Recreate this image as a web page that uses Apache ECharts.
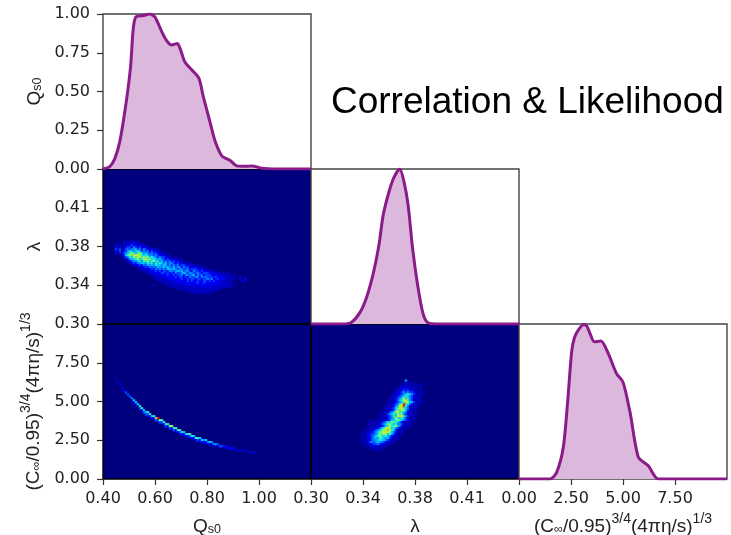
<!DOCTYPE html>
<html>
<head>
<meta charset="utf-8">
<script src="https://cdn.jsdelivr.net/npm/echarts@6/dist/echarts.min.js"></script>
<style>
    html, body { margin: 0; padding: 0; background: #fff; }
    #main { width: 731px; height: 535px; }
    /* the source picture is a soft screenshot */
    #main canvas { filter: blur(0.45px); }
</style>
</head>
<body>
<div id="main"></div>
<script>
var titleText = 'Correlation & Likelihood';

// axis ranges: min, max, tick step
var qRange = [0.4, 1.2, 0.2];
var lambdaRange = [0.3, 0.45, 0.0375];
var hydroRange = [0, 10, 2.5];
var densityRange = [0, 1, 0.25];

// marginal likelihoods
var qValues = [0.4, 0.426, 0.445, 0.465, 0.49, 0.506, 0.516, 0.526, 0.555, 0.58, 0.6, 0.625, 0.644, 0.664, 0.686, 0.698, 0.715, 0.741, 0.769, 0.786, 0.812, 0.831, 0.857, 0.889, 0.915, 0.953, 0.973, 1.01, 1.056, 1.2];
var qDensity = [0, 0.015, 0.065, 0.18, 0.44, 0.66, 0.9, 0.98, 0.99, 1, 0.98, 0.89, 0.83, 0.8, 0.81, 0.77, 0.69, 0.64, 0.585, 0.465, 0.3, 0.18, 0.085, 0.055, 0.02, 0.017, 0.02, 0.005, 0, 0];

var lambdaValues = [0.3, 0.323, 0.329, 0.335, 0.34, 0.345, 0.349, 0.352, 0.356, 0.3595, 0.364, 0.367, 0.37, 0.3733, 0.377, 0.3807, 0.384, 0.39, 0.45];
var lambdaDensity = [0, 0, 0.01, 0.07, 0.17, 0.33, 0.51, 0.7, 0.845, 0.94, 1, 0.92, 0.77, 0.485, 0.245, 0.07, 0.01, 0, 0];

var hydroValues = [0, 1.49, 1.81, 2.13, 2.34, 2.53, 2.66, 2.85, 3.09, 3.25, 3.41, 3.62, 3.94, 4.29, 4.69, 5, 5.34, 5.74, 6.22, 6.7, 10];
var hydroDensity = [0, 0, 0.043, 0.205, 0.5, 0.82, 0.91, 0.96, 0.995, 0.99, 0.94, 0.885, 0.89, 0.81, 0.68, 0.625, 0.43, 0.14, 0.085, 0, 0];

// joint histograms, 0-9 colour level per bin, '.' is an empty bin
var qLambdaStart = [4, 36];
var qLambdaRows = [
    '......1.1.11.1',
    '...1..11121211.1',
    '..1.1.112132212211',
    '..2.2.1233243232121.1',
    '..3.3.234344534243212111',
    '..2.3.2346545653434232211.1',
    '..1.2.345676567645434332211',
    '.....1256768787656544343221111',
    '......1346576876767565434332111.1',
    '.......1245567567867565454323221111',
    '........1234456466756756453434232211.1',
    '.........12324455465646565453443232211.11',
    '...........1223243545465545534343423322111.1',
    '.............1122324343544545435344243322221111',
    '..............1112223243434355454344334233322211.1',
    '................111222323233244345453443243323222111.1',
    '..................112122233232324334543443343233322211111.1',
    '....................1112122232232334244345243423332222111111.1',
    '.....................11112122222323323243344243433323222211111..1.1',
    '......................1111112222222322323323323343422322211111..1..2',
    '........................111111212222213232232233232322121111.....11',
    '..........................1.111121212222122322322212222111111',
    '.....................1.....1..111111122212122222122212211111.1',
    '.............................1.1.1111111121112121211111111.1',
    '.................................1.11111111111211111111',
    '......................................1.1111111111.1',
    '........................................1.1.11.1.1'
];

var lambdaHydroStart = [22, 28];
var lambdaHydroRows = [
    '.........................4',
    '........................1.1.1',
    '.......................1.2.1.1.1.1',
    '......................1.1211.11.1',
    '.....................11212211.1.1',
    '....................11123232211.11',
    '...................1112343433211.1',
    '..................1112234565431.11',
    '..................1112345654321.1',
    '.................1.12345756431111',
    '.................1112356786431.11',
    '................1.112345687553111.1',
    '................1112346795642111',
    '...............1.112457896421.11',
    '...............1112356876541111',
    '..............1.1123576875311.1',
    '............1.111345786654211.1',
    '............1.1134565767431111',
    '.............1112346587864311',
    '...........1.11123457656531.11',
    '........1.1.1.11235567654321.1',
    '.......1.1.112346576654211.1',
    '......1.11.1134567656443.111',
    '.......11.112235676675421.11',
    '......1.1122356787564311.1',
    '.....1.11234567868653111',
    '....1.112345678787542.11',
    '...1.11233457677565311.1',
    '...1.12234567656542.11',
    '...1.112345466545321.1',
    '...1.11234456554321.1',
    '...1.1234345443211.1',
    '....1.122334322.11',
    '.....1.1121211.1',
    '.......1.111.1',
    '..........1.1'
];

// the Q / hydro curve: first column, top bin of each column, colour levels going down from it
var qHydroStartCol = 6;
var qHydroTopRows = [27, 29, 30, 32, 33, 34, 35, 36, 37, 38, 39, 40, 41, 42, 43, 44, 44, 45, 46, 46, 47, 47, 48, 48, 49, 50, 50, 51, 51, 52, 52, 53, 53, 54, 54, 55, 55, 55, 56, 56, 57, 57, 57, 58, 58, 58, 59, 59, 59, 60, 60, 60, 61, 61, 61, 61, 62, 62, 62, 62, 63, 63, 63, 63, 63, 63, 64, 64, 64, 64];
var qHydroLevels = ['1', '1', '1', '1', '2', '3', '3', '3', '41', '52', '52', '51', '63', '62', '53', '53', '63', '62', '52', '62', '73', '93', '73', '63', '62', '63', '62', '73', '72', '63', '62', '62', '63', '62', '52', '52', '62', '63', '62', '52', '62', '63', '52', '52', '42', '52', '41', '52', '41', '41', '4', '31', '3', '3', '21', '2', '2', '2', '2', '2', '1', '1', '1', '1', '1', '1', '1', '1', '1', '1'];

var jetColors = ['#00007f', '#0000c0', '#0000f8', '#0040ff', '#0088ff', '#00c8ff', '#30f0c0', '#90ff60', '#f0e000', '#f01800'];

var HIST_COLS = 104;
var HIST_ROWS = 78;

function rowsToCells(rows, start) {
    var cells = [];
    rows.forEach(function (row, r) {
        row.split('').forEach(function (ch, c) {
            if (ch !== '.') {
                cells.push([start[0] + c, start[1] + r, +ch]);
            }
        });
    });
    return cells;
}

function curveToCells() {
    var cells = [];
    qHydroTopRows.forEach(function (top, i) {
        qHydroLevels[i].split('').forEach(function (ch, k) {
            cells.push([qHydroStartCol + i, top + k, +ch]);
        });
    });
    return cells;
}

function binIndex(n) {
    var out = [];
    for (var i = 0; i < n; i++) {
        out.push(i);
    }
    return out;
}

function pairs(xs, ys) {
    return xs.map(function (x, i) {
        return [x, ys[i]];
    });
}

var subRich = {
    m: {fontFamily: 'Liberation Sans', fontSize: 19, color: '#222', lineHeight: 24, verticalAlign: 'bottom'},
    s: {fontFamily: 'Liberation Sans', fontSize: 12.5, color: '#222', lineHeight: 24, verticalAlign: 'bottom'},
    u: {fontFamily: 'Liberation Sans', fontSize: 14, color: '#222', lineHeight: 24, verticalAlign: 'top'}
};
var qName = '{m|Q}{s|s0}';
var lambdaName = '{m|λ}';
var hydroName = '{m|(C}{s|∞}{m|/0.95)}{u|3/4}{m|(4πη/s)}{u|1/3}';

var grids = [];
var xAxes = [];
var yAxes = [];
var series = [];

var colLeft = [103, 311, 519];
var rowTop = [14, 169, 324];
var panelW = [208, 208, 208];
var panelH = 155;

function valueAxis(range, labelled, name, gap, gridIndex, isY) {
    return {
        type: 'value',
        gridIndex: gridIndex,
        min: range[0],
        max: range[1],
        interval: range[2],
        splitLine: {show: false},
        axisLine: {show: false, onZero: false},
        axisTick: {show: labelled, length: 6, inside: false, lineStyle: {color: '#333', width: 1.2}},
        axisLabel: {
            show: labelled,
            margin: isY ? 13 : 12,
            padding: isY ? [5, 0, 0, 0] : 0,
            fontFamily: 'DejaVu Sans',
            fontSize: 16,
            color: '#222',
            showMaxLabel: false,
            hideOverlap: false,
            formatter: function (v) {
                return v.toFixed(2);
            }
        },
        name: name || '',
        nameLocation: 'middle',
        nameGap: gap || 0,
        nameTextStyle: {rich: subRich}
    };
}

function addGrid(col, row, heat) {
    grids.push({
        left: colLeft[col],
        top: rowTop[row],
        width: panelW[col],
        height: panelH,
        show: true,
        containLabel: false,
        outerBoundsMode: 'none',
        backgroundColor: heat ? jetColors[0] : '#fff',
        borderColor: heat ? '#000' : '#444',
        borderWidth: 1.4
    });
    return grids.length - 1;
}

function addDensity(col, row, xRange, xs, ys, xLabelled, yLabelled, xName, yName, xGap, yGap) {
    var g = addGrid(col, row, false);
    xAxes.push(valueAxis(xRange, xLabelled, xName, xGap, g, false));
    yAxes.push(valueAxis(densityRange, yLabelled, yName, yGap, g, true));
    series.push({
        type: 'line',
        xAxisIndex: xAxes.length - 1,
        yAxisIndex: yAxes.length - 1,
        data: pairs(xs, ys),
        smooth: 0.25,
        showSymbol: false,
        silent: true,
        lineStyle: {color: '#8b1a8b', width: 3},
        areaStyle: {color: '#dbb8dc', opacity: 1}
    });
}

function addHeat(col, row, xRange, yRange, cells, xLabelled, yLabelled, xName, yName, xGap, yGap) {
    var g = addGrid(col, row, true);
    // the histogram bins live on hidden category axes, ticks on value axes in the same grid
    xAxes.push({type: 'category', gridIndex: g, data: binIndex(HIST_COLS), show: false});
    yAxes.push({type: 'category', gridIndex: g, data: binIndex(HIST_ROWS), inverse: true, show: false});
    series.push({
        type: 'heatmap',
        xAxisIndex: xAxes.length - 1,
        yAxisIndex: yAxes.length - 1,
        data: cells,
        silent: true,
        progressive: 0
    });
    var xa = valueAxis(xRange, xLabelled, xName, xGap, g, false);
    xa.position = 'bottom';
    xa.offset = 0;
    var ya = valueAxis(yRange, yLabelled, yName, yGap, g, true);
    ya.position = 'left';
    ya.offset = 0;
    xAxes.push(xa);
    yAxes.push(ya);
}

addDensity(0, 0, qRange, qValues, qDensity, false, true, '', qName, 0, 59);
yAxes[0].axisLabel.showMaxLabel = true;
addHeat(0, 1, qRange, lambdaRange, rowsToCells(qLambdaRows, qLambdaStart), false, true, '', lambdaName, 0, 59);
addHeat(0, 2, qRange, hydroRange, curveToCells(), true, true, qName, hydroName, 33, 60);
addDensity(1, 1, lambdaRange, lambdaValues, lambdaDensity, false, false);
addHeat(1, 2, lambdaRange, hydroRange, rowsToCells(lambdaHydroRows, lambdaHydroStart), true, false, lambdaName, '', 33, 0);
addDensity(2, 2, hydroRange, hydroValues, hydroDensity, true, false, hydroName, '', 33, 0);

var myChart = echarts.init(document.getElementById('main'));
myChart.setOption({
    animation: false,
    backgroundColor: '#fff',
    title: {
        text: titleText,
        left: 331,
        top: 84,
        padding: 0,
        textStyle: {fontFamily: 'Liberation Sans', fontSize: 37, fontWeight: 'normal', color: '#000'}
    },
    visualMap: {
        show: false,
        type: 'continuous',
        min: 0,
        max: 9,
        seriesIndex: series.map(function (s, i) {
            return s.type === 'heatmap' ? i : -1;
        }).filter(function (i) {
            return i >= 0;
        }),
        inRange: {color: jetColors}
    },
    grid: grids,
    xAxis: xAxes,
    yAxis: yAxes,
    series: series
});
</script>
</body>
</html>
